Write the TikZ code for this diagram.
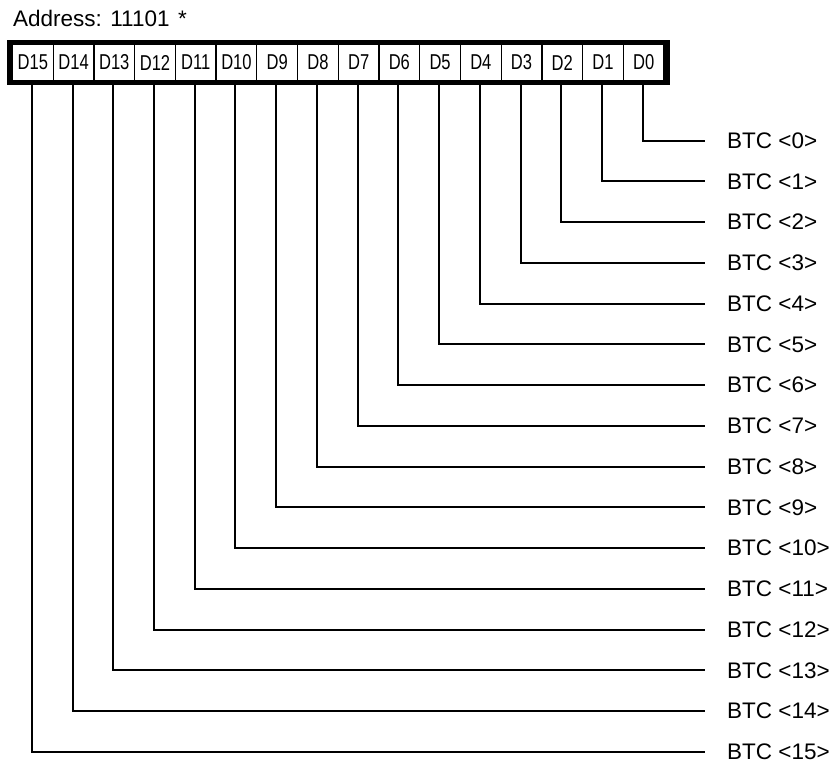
\documentclass[tikz,border=0pt]{standalone}
\usepackage{fontspec}
\setmainfont{Liberation Sans}
\newfontfamily\cellfont[FakeStretch=0.77]{Liberation Sans}
\begin{document}
\begin{tikzpicture}[x=1pt,y=-1pt,
  cellbox/.style={draw=black,line width=1.3pt,minimum width=40.73pt,minimum height=38pt,inner sep=0pt,font=\cellfont\fontsize{21.5}{22}\selectfont,anchor=center},
  btclabel/.style={anchor=west,inner xsep=0pt,inner ysep=0pt,font=\fontsize{22.5}{23}\selectfont},
  wire/.style={line width=2pt}]
\useasboundingbox (0,0) rectangle (831,765);
\node[anchor=base west,inner sep=0pt,font=\fontsize{22.5}{23}\selectfont] (addr) at (13,26.5) {Address: 11101};
\node[anchor=base west,inner sep=0pt,font=\fontsize{22.5}{23}\selectfont] (star) at (178,26.5) {*};
\foreach \i in {0,...,15}{
  \pgfmathsetmacro{\cx}{32.8+(15-\i)*40.73}
  \node[cellbox] (c\i) at (\cx,62.5) {D\i};
  \pgfmathsetmacro{\ly}{140.7+\i*40.75}
  \coordinate (e\i) at (705,\ly);
  \node[btclabel] (b\i) at (727,\ly) {BTC <\i>};
  \draw[wire] ([xshift=-1pt]c\i.south) |- (e\i);
}
\draw[line width=5pt] ([shift={(-2.5,0)}]c15.north west) rectangle ([shift={(2.5,0)}]c0.south east);
\end{tikzpicture}
\end{document}
